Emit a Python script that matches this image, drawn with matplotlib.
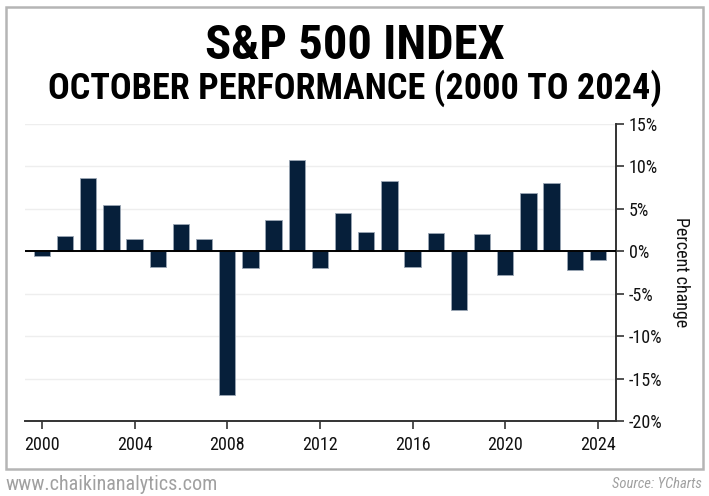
import matplotlib.pyplot as plt
from matplotlib.patches import Rectangle
from matplotlib.ticker import FuncFormatter

# S&P 500 October returns, percent
years = list(range(2000, 2025))
returns = [-0.5, 1.8, 8.6, 5.5, 1.4, -1.8, 3.2, 1.5, -16.9, -2.0,
           3.7, 10.8, -2.0, 4.5, 2.3, 8.3, -1.9, 2.2, -6.9, 2.0,
           -2.8, 6.9, 8.0, -2.2, -1.0]
x_ticks = [2000, 2004, 2008, 2012, 2016, 2020, 2024]
y_ticks = [-20, -15, -10, -5, 0, 5, 10, 15]

narrow = ['Roboto Condensed', 'DejaVu Sans']
plt.rcParams['font.stretch'] = 'condensed'

fig = plt.figure(figsize=(7.09, 4.96), dpi=100)
fig.patch.set_facecolor('white')

# outer frame
fig.patches.append(Rectangle((6 / 709, 1 - 469 / 496), 697 / 709, 462 / 496,
                             transform=fig.transFigure, fill=False,
                             edgecolor='#b5b5b5', linewidth=1.8))

ax = fig.add_axes([25 / 709, 1 - 421 / 496, 591 / 709, 297 / 496])
ax.bar(years, returns, width=0.7, color='#061f3a', edgecolor='#9aa6b4',
       linewidth=0.6, zorder=3)
ax.axhline(0, color='black', lw=1.4, zorder=4)

ax.set_xlim(1999.27, 2024.78)
ax.set_ylim(-20, 15)
ax.set_xticks(x_ticks)
ax.set_yticks(y_ticks)
ax.yaxis.set_major_formatter(FuncFormatter(lambda v, p: f"{v:.0f}%"))
ax.yaxis.tick_right()
ax.yaxis.set_label_position('right')
ax.grid(axis='y', color='#eeeeee', lw=1, zorder=0)

for s in ['top', 'left']:
    ax.spines[s].set_visible(False)
for s in ['bottom', 'right']:
    ax.spines[s].set_color('#333333')
    ax.spines[s].set_linewidth(1.4)

ax.tick_params(axis='x', length=6, width=1.2, color='#333333', pad=5)
ax.tick_params(axis='y', length=6, width=1.2, color='#333333', pad=3)
for lab in ax.get_xticklabels() + ax.get_yticklabels():
    lab.set_family(narrow)
    lab.set_fontsize(13)
    lab.set_color('#111111')

ax.set_ylabel("Percent change", rotation=270, labelpad=20,
              family=narrow, fontsize=13, color='#111111')

fig.text(0.5, 1 - 46 / 496, "S&P 500 INDEX", ha='center', va='center',
         family=narrow, fontweight='black', fontsize=35)
fig.text(0.5, 1 - 88 / 496, "OCTOBER PERFORMANCE (2000 TO 2024)", ha='center',
         va='center', family=narrow, fontweight='black', fontsize=26)

fig.text(5 / 709, 1 - 484 / 496, "www.chaikinanalytics.com", ha='left',
         va='center', family=narrow, fontsize=14.5, color='#a0a0a0')
fig.text(702 / 709, 1 - 484 / 496, "Source: YCharts", ha='right',
         va='center', family=narrow, fontsize=10.5, style='italic',
         color='#a0a0a0')

fig.savefig('out.png', dpi=100)
